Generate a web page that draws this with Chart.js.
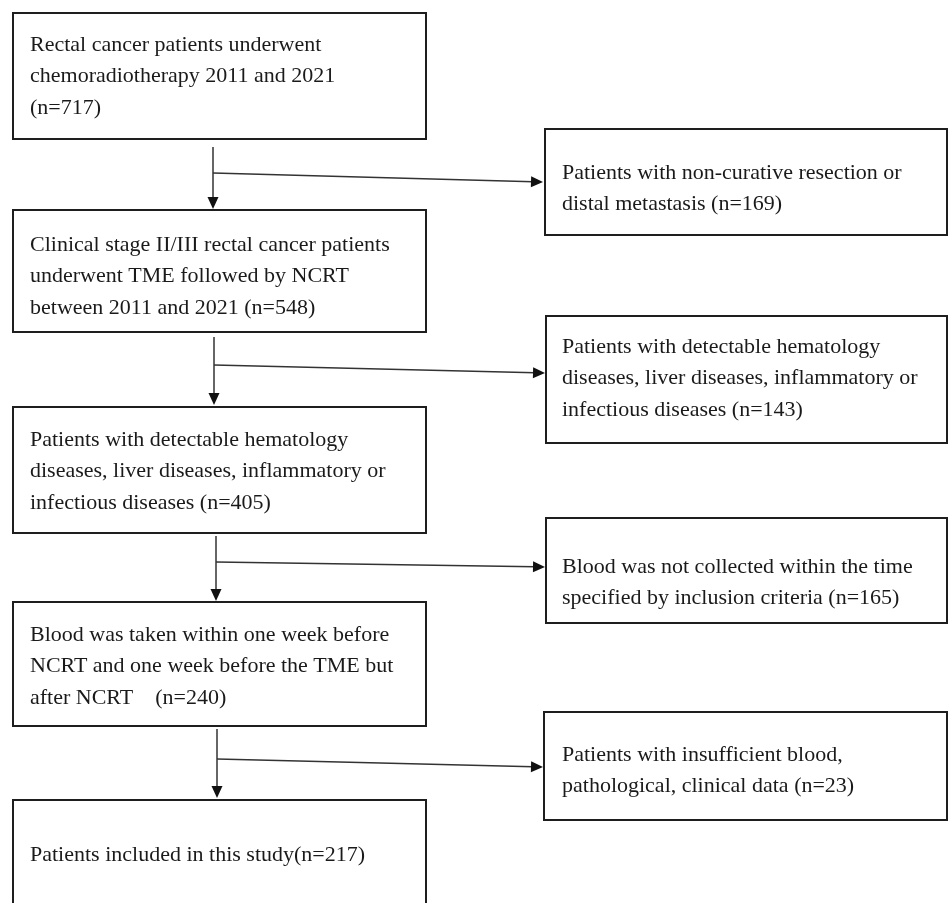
<!DOCTYPE html>
<html>
<head>
<meta charset="utf-8">
<script src="https://cdn.jsdelivr.net/npm/chart.js@4"></script>
<style>
  body { margin: 0; background: #ffffff; }
  canvas { display: block; }
</style>
</head>
<body>
<canvas id="flow" width="949" height="903"></canvas>
<script>
// flow data: patient counts at each step and the ones excluded on the way
var mainCounts = [717, 548, 405, 240, 217];
var excludedCounts = [169, 143, 165, 23];

// box texts, "{n}" gets the count
var mainLines = [
  ["Rectal cancer patients underwent", "chemoradiotherapy 2011 and 2021", "(n={n})"],
  ["Clinical stage II/III rectal cancer patients", "underwent TME followed by NCRT", "between 2011 and 2021 (n={n})"],
  ["Patients with detectable hematology", "diseases, liver diseases, inflammatory or", "infectious diseases (n={n})"],
  ["Blood was taken within one week before", "NCRT and one week before the TME but", "after NCRT    (n={n})"],
  ["Patients included in this study(n={n})"]
];
var excludedLines = [
  ["Patients with non-curative resection or", "distal metastasis (n={n})"],
  ["Patients with detectable hematology", "diseases, liver diseases, inflammatory or", "infectious diseases (n={n})"],
  ["Blood was not collected within the time", "specified by inclusion criteria (n={n})"],
  ["Patients with insufficient blood,", "pathological, clinical data (n={n})"]
];

// layout (chart units = pixels of the picture)
var mainBoxes = [
  {x0: 13, x1: 426, y0: 13,  y1: 139, ty: 45},
  {x0: 13, x1: 426, y0: 210, y1: 332, ty: 245},
  {x0: 13, x1: 426, y0: 407, y1: 533, ty: 440},
  {x0: 13, x1: 426, y0: 602, y1: 726, ty: 635},
  {x0: 13, x1: 426, y0: 800, y1: 920, ty: 855}
];
var sideBoxes = [
  {x0: 545, x1: 947, y0: 129, y1: 235, ty: 173},
  {x0: 546, x1: 947, y0: 316, y1: 443, ty: 347},
  {x0: 546, x1: 947, y0: 518, y1: 623, ty: 567},
  {x0: 544, x1: 947, y0: 712, y1: 820, ty: 755}
];
var links = [
  {x: 213, top: 147, tip: 209, by: 173, ex: 543, ey: 182},
  {x: 214, top: 337, tip: 405, by: 365, ex: 545, ey: 373},
  {x: 216, top: 536, tip: 601, by: 562, ex: 545, ey: 567},
  {x: 217, top: 729, tip: 798, by: 759, ex: 543, ey: 767}
];
var lineGap = 31.5;

function fill(lines, n) {
  return lines.map(function(l){ return l.replace("{n}", n); });
}

var flowPlugin = {
  id: 'flow',
  afterDraw: function(chart) {
    var ctx = chart.ctx;
    var sx = chart.scales.x, sy = chart.scales.y;
    var px = function(v){ return sx.getPixelForValue(v); };
    var py = function(v){ return sy.getPixelForValue(v); };

    function box(b, lines, tx) {
      ctx.save();
      ctx.strokeStyle = "#1e1e1e";
      ctx.lineWidth = 2;
      ctx.strokeRect(px(b.x0), py(b.y0), px(b.x1) - px(b.x0), py(b.y1) - py(b.y0));
      ctx.fillStyle = "#1a1a1a";
      ctx.font = "22px 'Liberation Serif', 'Times New Roman', serif";
      ctx.textBaseline = "middle";
      lines.forEach(function(t, i){
        ctx.fillText(t, px(tx), py(b.ty + i * lineGap));
      });
      ctx.restore();
    }

    mainBoxes.forEach(function(b, i){ box(b, fill(mainLines[i], mainCounts[i]), 30); });
    sideBoxes.forEach(function(b, i){ box(b, fill(excludedLines[i], excludedCounts[i]), 562); });

    ctx.save();
    ctx.strokeStyle = "#333333";
    ctx.fillStyle = "#111111";
    ctx.lineWidth = 1.5;
    links.forEach(function(l){
      // down
      ctx.beginPath();
      ctx.moveTo(px(l.x), py(l.top));
      ctx.lineTo(px(l.x), py(l.tip) - 10);
      ctx.stroke();
      ctx.beginPath();
      ctx.moveTo(px(l.x), py(l.tip));
      ctx.lineTo(px(l.x) - 5.5, py(l.tip) - 12);
      ctx.lineTo(px(l.x) + 5.5, py(l.tip) - 12);
      ctx.closePath();
      ctx.fill();
      // side branch
      var a = Math.atan2(py(l.ey) - py(l.by), px(l.ex) - px(l.x));
      ctx.beginPath();
      ctx.moveTo(px(l.x), py(l.by));
      ctx.lineTo(px(l.ex) - 10 * Math.cos(a), py(l.ey) - 10 * Math.sin(a));
      ctx.stroke();
      ctx.save();
      ctx.translate(px(l.ex), py(l.ey));
      ctx.rotate(a);
      ctx.beginPath();
      ctx.moveTo(0, 0);
      ctx.lineTo(-12, -5.5);
      ctx.lineTo(-12, 5.5);
      ctx.closePath();
      ctx.fill();
      ctx.restore();
    });
    ctx.restore();
  }
};

new Chart(document.getElementById("flow").getContext("2d"), {
  type: 'scatter',
  data: { datasets: [] },
  options: {
    responsive: false,
    animation: false,
    devicePixelRatio: 1,
    layout: { padding: 0 },
    plugins: { legend: { display: false }, tooltip: { enabled: false } },
    scales: {
      x: { type: 'linear', min: 0, max: 949, display: false },
      y: { type: 'linear', min: 0, max: 903, reverse: true, display: false }
    }
  },
  plugins: [flowPlugin]
});
</script>
</body>
</html>
